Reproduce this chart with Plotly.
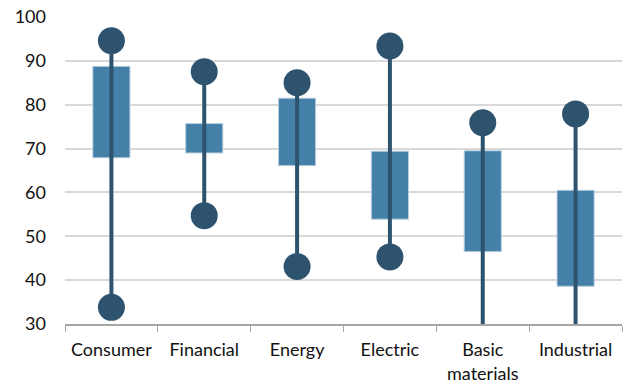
import plotly.graph_objects as go

# Sector score distribution: whisker ends and interquartile box per sector
sectors = ["Consumer", "Financial", "Energy", "Electric", "Basic<br>materials", "Industrial"]
low = [33.8, 54.7, 43.1, 45.3, 22.0, 24.0]
q1 = [67.9, 69.0, 66.1, 53.9, 46.5, 38.6]
q3 = [88.75, 75.7, 81.5, 69.4, 69.5, 60.5]
high = [94.6, 87.5, 85.0, 93.4, 75.9, 77.9]
y_ticks = [30, 40, 50, 60, 70, 80, 90, 100]

BOX = "#4480A8"
DARK = "#2E536F"

# whisker lines, one segment per sector
wx, wy = [], []
for s, lo, hi in zip(sectors, low, high):
    wx += [s, s, None]
    wy += [lo, hi, None]

fig = go.Figure()
fig.add_trace(go.Scatter(x=wx, y=wy, mode="lines",
                         line=dict(color=DARK, width=4), hoverinfo="skip"))
fig.add_trace(go.Bar(x=sectors, y=[b - a for a, b in zip(q1, q3)], base=q1,
                     width=0.4, marker=dict(color=BOX, line=dict(color="#B9D0E0", width=1))))
fig.add_trace(go.Scatter(x=sectors + sectors, y=low + high, mode="markers",
                         marker=dict(color=DARK, size=27, line=dict(width=0))))

font = dict(family="Lato, Open Sans, sans-serif", size=18, color="#111111")
fig.update_layout(
    width=625, height=385,
    margin=dict(l=65, r=3, t=17, b=61),
    paper_bgcolor="white", plot_bgcolor="white",
    showlegend=False, font=font,
    xaxis=dict(type="category", tickson="boundaries", ticks="outside", ticklen=6,
               tickcolor="#A6A6A6", showline=True, linecolor="#A6A6A6", linewidth=1.5,
               showgrid=False, tickfont=font, ticklabelstandoff=9, automargin=False),
    yaxis=dict(range=[30, 100], tickvals=y_ticks, showgrid=True, gridcolor="#D9D9D9",
               gridwidth=1.5, zeroline=False, showline=False, ticks="", ticklen=0,
               tickfont=font, ticklabelstandoff=18, automargin=False),
)

fig.write_html("out.html")
